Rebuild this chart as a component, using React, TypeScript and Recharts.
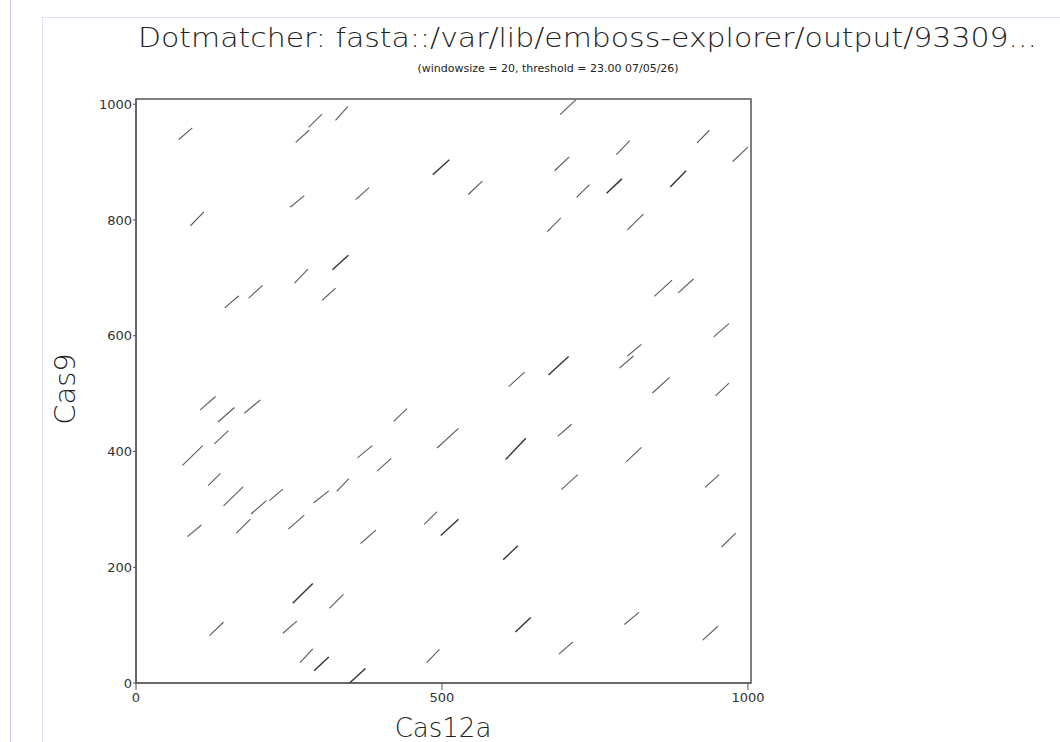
import { ReferenceArea, ReferenceLine, Scatter, ScatterChart, XAxis, YAxis } from "recharts";

// match segments: [cas12aStart, cas9Start, cas12aEnd, cas9End]
const dotSegments: [number, number, number, number][] = [
  [70, 939, 92, 959], [261, 934, 283, 955], [282, 960, 304, 983], [326, 972, 346, 996],
  [693, 982, 719, 1008], [917, 933, 937, 955], [975, 901, 1000, 926], [485, 878, 512, 904],
  [543, 844, 566, 867], [684, 885, 708, 909], [785, 913, 807, 937], [720, 839, 741, 861],
  [769, 846, 794, 871], [873, 857, 899, 885], [89, 790, 111, 814], [252, 822, 275, 842],
  [359, 835, 381, 856], [259, 691, 281, 715], [321, 714, 347, 739], [145, 648, 168, 669],
  [184, 665, 207, 687], [304, 661, 326, 682], [672, 780, 694, 803], [803, 783, 829, 810],
  [847, 668, 876, 696], [886, 674, 911, 698], [944, 598, 969, 621], [609, 512, 635, 537],
  [674, 532, 707, 564], [790, 544, 813, 565], [803, 565, 826, 585], [844, 501, 872, 528],
  [947, 496, 969, 518], [105, 472, 130, 495], [134, 451, 161, 476], [177, 466, 203, 489],
  [128, 413, 151, 436], [76, 376, 109, 410], [118, 341, 138, 362], [143, 306, 175, 339],
  [188, 292, 213, 315], [218, 315, 240, 335], [84, 253, 107, 273], [164, 259, 187, 283],
  [249, 266, 275, 290], [290, 311, 315, 332], [328, 331, 348, 353], [421, 452, 443, 474],
  [362, 389, 386, 410], [394, 366, 417, 388], [492, 406, 527, 440], [604, 386, 637, 423],
  [689, 426, 712, 447], [801, 382, 826, 407], [471, 274, 492, 296], [498, 255, 527, 283],
  [695, 334, 722, 360], [930, 338, 953, 360], [367, 241, 392, 264], [600, 213, 624, 237],
  [957, 235, 980, 259], [256, 138, 289, 172], [316, 129, 339, 153], [620, 88, 645, 113],
  [798, 101, 822, 122], [926, 74, 951, 98], [120, 82, 143, 105], [240, 86, 263, 107],
  [475, 35, 496, 58], [691, 50, 714, 71], [268, 35, 289, 59], [291, 21, 315, 45],
  [349, 0, 375, 25],
];

// segments drawn darker (overlapping hits)
const heavySegments = [7, 12, 13, 18, 28, 51, 55, 59, 61, 63, 71, 72];

const xTicks = [0, 500, 1000];
const yTicks = [0, 200, 400, 600, 800, 1000];
const xMax = 1005;
const yMax = 1009;

const titleText = "Dotmatcher: fasta::/var/lib/emboss-explorer/output/93309...";
const subtitleText = "(windowsize = 20, threshold = 23.00  07/05/26)";

const font = "'DejaVu Sans', sans-serif";

export default function App() {
  const endpoints = dotSegments.flatMap(([x1, y1, x2, y2]) => [
    { x: x1, y: y1 },
    { x: x2, y: y2 },
  ]);

  return (
    <div style={{ position: "absolute", left: 0, top: 0, width: 1060, height: 742, background: "#fff", overflow: "hidden" }}>
      {/* page frame lines from the screenshot */}
      <div style={{ position: "absolute", left: 10, top: 0, width: 1, height: 742, background: "#c9c9f2" }} />
      <div style={{ position: "absolute", left: 42, top: 17, width: 1, height: 725, background: "#d9e5f6" }} />
      <div style={{ position: "absolute", left: 42, top: 17, width: 1018, height: 1, background: "#d9e5f6" }} />

      <svg width={1060} height={742} style={{ position: "absolute", left: 0, top: 0 }}>
        <text x={138} y={47} fontFamily={font} fontSize={27} fontWeight={200} fill="#222" textLength={899} lengthAdjust="spacingAndGlyphs">
          {titleText}
        </text>
        <text x={548} y={72} fontFamily={font} fontSize={11} fill="#222" textAnchor="middle">
          {subtitleText}
        </text>
        <text x={443} y={737} fontFamily={font} fontSize={26} fontWeight={200} fill="#222" textAnchor="middle">
          Cas12a
        </text>
        <text transform="translate(75,389) rotate(-90)" fontFamily={font} fontSize={29} fontWeight={200} fill="#222" textAnchor="middle">
          Cas9
        </text>
      </svg>

      <div style={{ position: "absolute", left: 0, top: 0 }}>
        <ScatterChart width={1060} height={742} margin={{ top: 99, right: 309, bottom: 29, left: 0 }}>
          <XAxis
            type="number"
            dataKey="x"
            domain={[0, xMax]}
            ticks={xTicks}
            allowDataOverflow
            height={30}
            tickSize={7}
            tickMargin={3}
            stroke="#555"
            tick={{ fontSize: 13, fill: "#333", fontFamily: font }}
          />
          <YAxis
            type="number"
            dataKey="y"
            domain={[0, yMax]}
            ticks={yTicks}
            allowDataOverflow
            width={136}
            tickSize={3}
            tickMargin={1}
            stroke="#555"
            tick={{ fontSize: 13, fill: "#333", fontFamily: font }}
          />
          <ReferenceArea x1={0} x2={xMax} y1={0} y2={yMax} fill="none" stroke="#555" strokeWidth={1.5} ifOverflow="visible" />
          {dotSegments.map(([x1, y1, x2, y2], i) => (
            <ReferenceLine
              key={i}
              segment={[{ x: x1, y: y1 }, { x: x2, y: y2 }]}
              stroke={heavySegments.includes(i) ? "#333" : "#5a5a5a"}
              strokeWidth={heavySegments.includes(i) ? 1.4 : 1.1}
              ifOverflow="visible"
            />
          ))}
          <Scatter data={endpoints} isAnimationActive={false} shape={() => <g />} />
        </ScatterChart>
      </div>
    </div>
  );
}
